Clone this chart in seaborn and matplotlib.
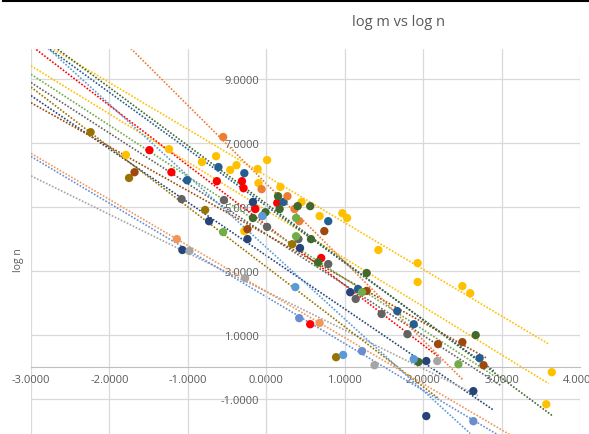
import numpy as np
import pandas as pd
import matplotlib
matplotlib.use("Agg")
import matplotlib.pyplot as plt
import seaborn as sns

# series (log m, log n)
gold1_x = [-0.38, 0.01, -0.11, 0.18, 0.45, 0.68, 0.97, 1.03, 1.43, 1.93, 1.93, 2.50, 2.60]
gold1_y = [6.31, 6.47, 6.19, 5.63, 5.16, 4.72, 4.81, 4.66, 3.66, 3.25, 2.66, 2.53, 2.31]
gold2_x = [-1.79, -1.24, -0.82, -0.64, -0.46, -0.28, -0.10, 3.64, 3.57]
gold2_y = [6.63, 6.81, 6.41, 6.59, 6.16, 4.25, 5.75, -0.16, -1.16]
red_x = [-1.49, -1.21, -0.63, -0.31, -0.29, -0.14, 0.14, 0.70, 0.56]
red_y = [6.78, 6.09, 5.81, 5.81, 5.59, 4.94, 5.13, 3.41, 1.34]
dblue_x = [-1.07, -0.73, -0.24, -0.17, 0.43, 1.07, 2.04, 2.64, 2.04]
dblue_y = [3.66, 4.56, 4.00, 5.16, 3.72, 2.34, 0.19, -0.75, -1.53]
teal_x = [-1.01, -0.61, -0.28, 0.22, 0.79, 1.17, 1.67, 1.88, 2.72]
teal_y = [5.84, 6.25, 6.06, 5.16, 4.56, 2.44, 1.75, 1.34, 0.28]
dgray_x = [-1.08, -0.54, 0.01, 0.41, 0.79, 1.14, 1.47, 1.80]
dgray_y = [5.25, 5.22, 4.38, 4.00, 3.22, 2.13, 1.66, 1.03]
gray_x = [-0.98, -0.27, 1.38, 2.18]
gray_y = [3.63, 2.78, 0.06, 0.19]
dgold_x = [-2.24, -1.75, -0.78, 0.33, 0.89]
dgold_y = [7.34, 5.91, 4.91, 3.84, 0.31]
brown_x = [-1.68, -0.24, 0.74, 1.28, 2.19, 2.50, 2.77]
brown_y = [6.09, 4.31, 4.25, 2.38, 0.72, 0.78, 0.06]
orange_x = [-0.55, -0.06, 0.27, 0.36, 0.42]
orange_y = [7.19, 5.56, 5.34, 4.94, 4.56]
lorange_x = [-1.14, 0.68]
lorange_y = [4.00, 1.38]
green_x = [-0.55, -0.05, 0.38, 0.38, 0.66, 1.22, 2.45]
green_y = [4.22, 4.72, 4.66, 4.09, 3.25, 2.34, 0.09]
dgreen_x = [-0.17, -0.01, 0.15, 0.17, 0.40, 0.56, 0.57, 0.66, 1.28, 1.94, 2.67]
dgreen_y = [4.66, 4.84, 5.34, 4.94, 5.03, 5.03, 4.00, 3.28, 2.94, 0.16, 1.00]
lblue_x = [-0.05, 0.37, 0.98, 1.88]
lblue_y = [4.72, 2.50, 0.38, 0.25]
blue_x = [0.42, 1.22, 2.64]
blue_y = [1.53, 0.50, -1.69]

# where each trendline forecast ends on the right
line_end = {"gold1": 3.6, "gold2": 3.6, "red": 2.2, "dblue": 2.9, "teal": 2.9,
            "dgray": 3.0, "gray": 2.7, "dgold": 2.2, "brown": 2.8, "orange": 2.5,
            "lorange": 3.2, "green": 2.9, "dgreen": 3.65, "lblue": 2.6, "blue": 3.1}

series = {
    "gold1": (gold1_x, gold1_y, "#FFC000"),
    "gold2": (gold2_x, gold2_y, "#FFC000"),
    "red": (red_x, red_y, "#FF0000"),
    "dblue": (dblue_x, dblue_y, "#264478"),
    "teal": (teal_x, teal_y, "#255E91"),
    "dgray": (dgray_x, dgray_y, "#636363"),
    "gray": (gray_x, gray_y, "#A5A5A5"),
    "dgold": (dgold_x, dgold_y, "#997300"),
    "brown": (brown_x, brown_y, "#9E480E"),
    "orange": (orange_x, orange_y, "#ED7D31"),
    "lorange": (lorange_x, lorange_y, "#F1975A"),
    "green": (green_x, green_y, "#70AD47"),
    "dgreen": (dgreen_x, dgreen_y, "#43682B"),
    "lblue": (lblue_x, lblue_y, "#5B9BD5"),
    "blue": (blue_x, blue_y, "#698ED0"),
}

rows = []
for name, (xs, ys, c) in series.items():
    for a, b in zip(xs, ys):
        rows.append({"log m": a, "log n": b, "series": name})
df = pd.DataFrame(rows)
palette = {k: v[2] for k, v in series.items()}

sns.set_style("white")
plt.rcParams['font.family'] = ['Open Sans', 'DejaVu Sans']

fig = plt.figure(figsize=(5.89, 4.35), dpi=100)
ax = fig.add_axes([31 / 589, 0, 549 / 589, 385 / 435])

# dotted linear trendlines
for name, (xs, ys, c) in series.items():
    k, b0 = np.polyfit(xs, ys, 1)
    lx = np.array([-3.0, line_end[name]])
    ax.plot(lx, k * lx + b0, color=c, lw=1.2, ls=(0, (1, 1)), zorder=2)

sns.scatterplot(data=df, x="log m", y="log n", hue="series", palette=palette,
                s=36, edgecolor="none", legend=False, ax=ax, zorder=3)

ax.set_xlim(-3, 4)
ax.set_ylim(-2.09, 9.94)
ax.set_xticks(range(-3, 5))
ax.set_yticks([-1, 1, 3, 5, 7, 9])
ax.set_xticklabels([f"{v:.4f}" for v in range(-3, 5)])
ax.set_yticklabels([f"{v:.4f}" for v in [-1, 1, 3, 5, 7, 9]])
ax.grid(True, color="#D9D9D9", lw=0.9)
ax.set_axisbelow(True)
for s in ["top", "right"]:
    ax.spines[s].set_visible(False)
ax.spines["bottom"].set_position(("data", 0))
ax.spines["left"].set_position(("data", 0))
ax.spines["bottom"].set_color("#BFBFBF")
ax.spines["left"].set_color("#D9D9D9")
ax.tick_params(length=0, labelsize=8, labelcolor="#595959", pad=5)
ax.set_xlabel("")
ax.set_ylabel("")

fig.text(398 / 589, 1 - 23 / 435, "log m vs log n", ha="center", va="center",
         fontsize=10.5, color="#595959")
fig.text(18 / 589, 1 - 260 / 435, "log n", ha="center", va="center",
         rotation=90, fontsize=7.5, color="#595959")

# frame edge of the sheet above the chart
fig.add_artist(plt.Line2D([0.005, 1], [1 - 2 / 435, 1 - 2 / 435], color="black", lw=1.5))
fig.add_artist(plt.Line2D([0.005, 0.005], [1, 1 - 2 / 435], color="black", lw=1.5))

fig.savefig("out.png", dpi=100)
